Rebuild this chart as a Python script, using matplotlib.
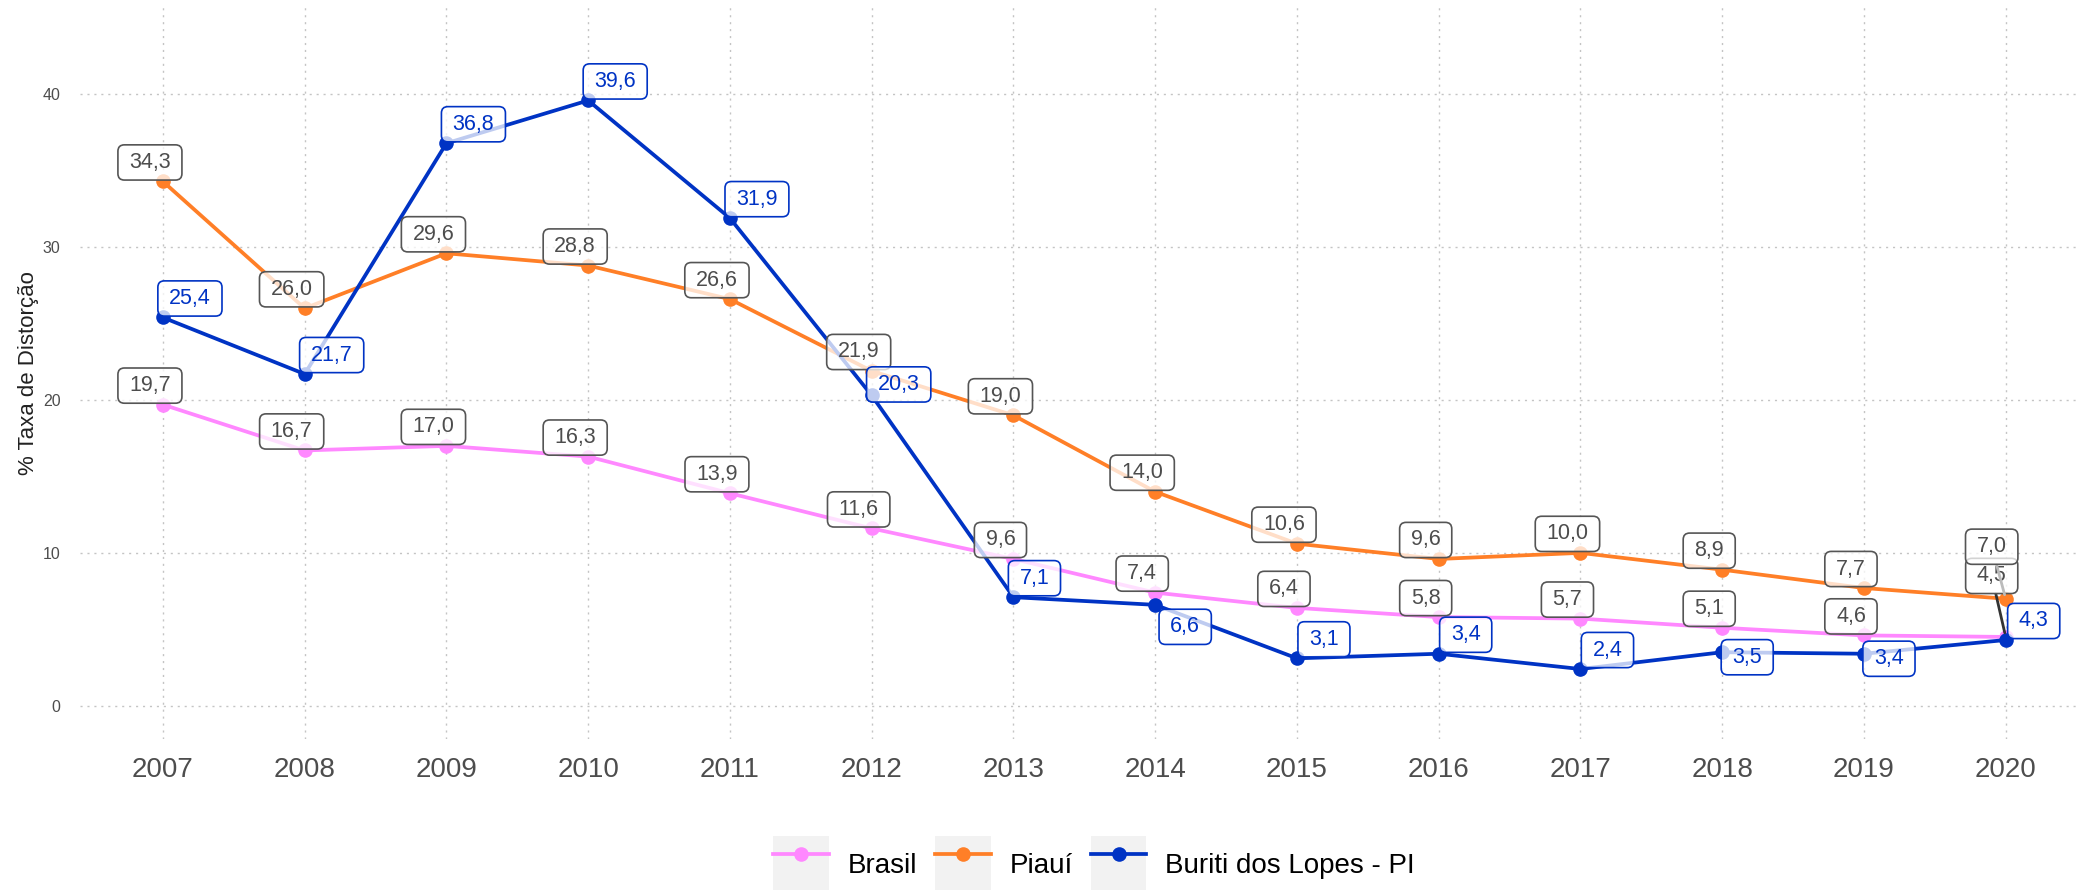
import matplotlib
matplotlib.use("Agg")
import matplotlib.pyplot as plt
from matplotlib.legend_handler import HandlerLine2D
from matplotlib.lines import Line2D
from matplotlib.patches import Rectangle, BoxStyle

plt.rcParams['font.family'] = ['Liberation Sans', 'DejaVu Sans']

# ---- data -------------------------------------------------------------
years = [2007, 2008, 2009, 2010, 2011, 2012, 2013,
         2014, 2015, 2016, 2017, 2018, 2019, 2020]
brasil = [19.7, 16.7, 17.0, 16.3, 13.9, 11.6, 9.6,
          7.4, 6.4, 5.8, 5.7, 5.1, 4.6, 4.5]
piaui = [34.3, 26.0, 29.6, 28.8, 26.6, 21.9, 19.0,
         14.0, 10.6, 9.6, 10.0, 8.9, 7.7, 7.0]
buriti = [25.4, 21.7, 36.8, 39.6, 31.9, 20.3, 7.1,
          6.6, 3.1, 3.4, 2.4, 3.5, 3.4, 4.3]
series_names = ["Brasil", "Piauí", "Buriti dos Lopes - PI"]
y_label = "% Taxa de Distorção"

# ---- styling ----------------------------------------------------------
colors = {"Brasil": "#FF88FF", "Piauí": "#FF7F27", "Buriti dos Lopes - PI": "#0033C4"}
label_text = {"Brasil": "#4D4D4D", "Piauí": "#4D4D4D", "Buriti dos Lopes - PI": "#0033C4"}
label_edge = {"Brasil": "#555555", "Piauí": "#555555", "Buriti dos Lopes - PI": "#0033C4"}

# label offsets in pixels (dx, dy upwards)
default_offset = {"Brasil": (-13, 19), "Piauí": (-13, 19), "Buriti dos Lopes - PI": (27, 19)}
offset_override = {
    ("Brasil", 2020): (-14, 61),
    ("Piauí", 2020): (-14, 52),
    ("Buriti dos Lopes - PI", 2012): (27, 11),
    ("Buriti dos Lopes - PI", 2013): (21, 19),
    ("Buriti dos Lopes - PI", 2014): (30, -22),
    ("Buriti dos Lopes - PI", 2018): (25, -5),
    ("Buriti dos Lopes - PI", 2019): (25, -5),
    ("Buriti dos Lopes - PI", 2020): (28, 19),
}
with_segment = {("Brasil", 2020): "#333333", ("Piauí", 2020): "#BBBBBB"}

_round = BoxStyle.Round(pad=0, rounding_size=0.3)


def label_box(x0, y0, width, height, mutation_size):
    """Rounded rectangle with wider horizontal than vertical padding."""
    px = 0.52 * mutation_size
    py = 0.33 * mutation_size
    return _round(x0 - px, y0 - py, width + 2 * px, height + 2 * py, mutation_size)


fig = plt.figure(figsize=(20.8, 8.9), dpi=100)
ax = fig.add_axes([80 / 2080, 1 - 739 / 890, 1998 / 2080, (739 - 6.6) / 890])

values = {"Brasil": brasil, "Piauí": piaui, "Buriti dos Lopes - PI": buriti}

for z, name in enumerate(series_names):
    ax.plot(years, values[name], color=colors[name], lw=2.7, marker="o",
            markersize=10.5, markeredgewidth=0, zorder=3 + z, solid_capstyle="round")

# labels drawn after all lines so they sit on top
for z, name in enumerate(series_names):
    for yr, v in zip(years, values[name]):
        dx, dy = offset_override.get((name, yr), default_offset[name])
        txt = f"{v:.1f}".replace(".", ",")
        arrow = None
        if (name, yr) in with_segment:
            arrow = dict(arrowstyle="-", color=with_segment[(name, yr)], lw=2.0,
                         shrinkA=0, shrinkB=3)
        ax.annotate(txt, xy=(yr, v), xytext=(dx, dy), textcoords="offset pixels",
                    ha="center", va="center", fontsize=15.5, color=label_text[name],
                    zorder=10 + z,
                    bbox=dict(boxstyle=label_box, facecolor=(1, 1, 1, 0.75),
                              edgecolor=label_edge[name], lw=1.2),
                    arrowprops=arrow)

# ---- axes ---------------------------------------------------------------
ax.set_xlim(2006.415, 2020.51)
ax.set_ylim(-2.178, 45.74)
ax.set_xticks(years)
ax.set_xticklabels([str(y) for y in years])
ax.set_yticks([0, 10, 20, 30, 40])
ax.tick_params(axis="x", length=0, pad=13, labelsize=20, labelcolor="#4D4D4D")
ax.tick_params(axis="y", length=0, pad=14, labelsize=11.5, labelcolor="#4D4D4D")
for s in ax.spines.values():
    s.set_visible(False)
ax.grid(True, color="#C4C4C4", lw=1.0, linestyle=(0, (1.5, 3.5)))
ax.set_axisbelow(True)
ax.set_ylabel(y_label, fontsize=16, color="#222222", labelpad=3)


class KeyWithBackground(HandlerLine2D):
    def create_artists(self, legend, orig_handle, xdescent, ydescent,
                       width, height, fontsize, trans):
        bg = Rectangle((-xdescent, -ydescent), width, height,
                       facecolor="#F2F2F2", edgecolor="none", transform=trans)
        arts = super().create_artists(legend, orig_handle, xdescent, ydescent,
                                      width, height, fontsize, trans)
        return [bg] + list(arts)


handles = [Line2D([], [], color=colors[n], lw=2.7, marker="o", markersize=10.5,
                  markeredgewidth=0) for n in series_names]
leg = fig.legend(handles, series_names, loc="center", bbox_to_anchor=(0.526, 0.029),
                 ncol=3, frameon=False, fontsize=20, handlelength=2.0, handleheight=2.7,
                 handletextpad=0.68, columnspacing=0.65, numpoints=1,
                 borderpad=0, borderaxespad=0,
                 handler_map={Line2D: KeyWithBackground()})

fig.savefig("out.png", dpi=100, facecolor="white")
